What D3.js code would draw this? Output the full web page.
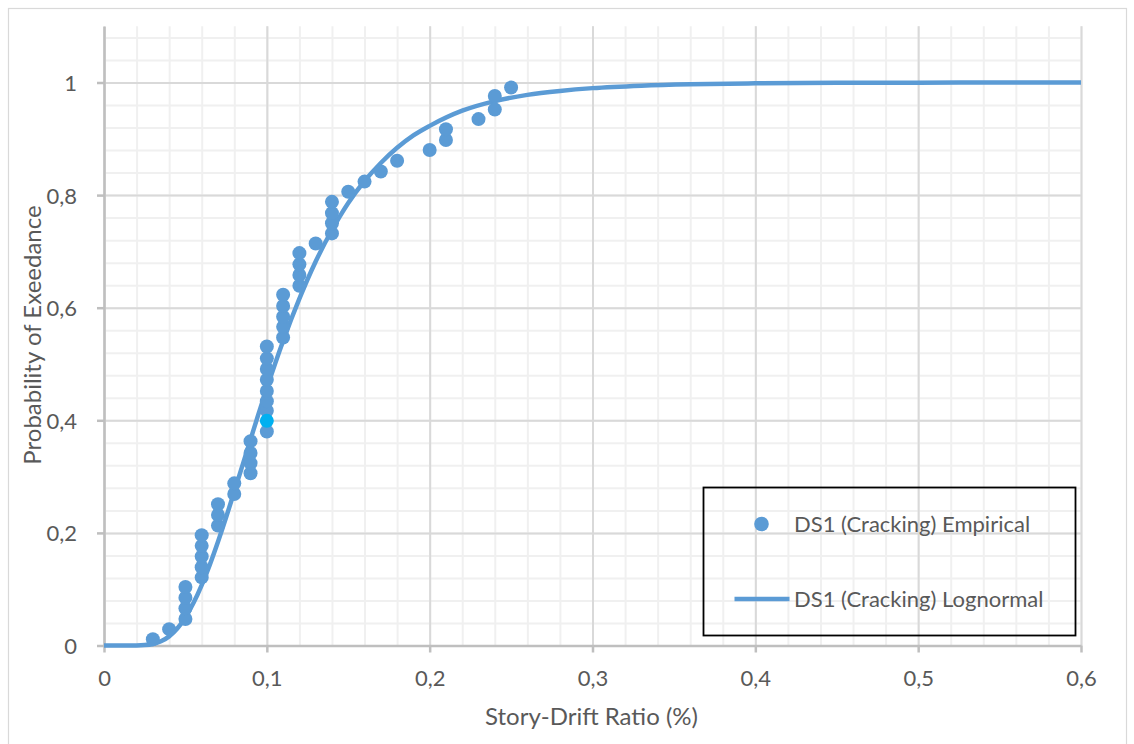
<!DOCTYPE html>
<html>
<head>
<meta charset="utf-8">
<script src="https://cdn.jsdelivr.net/npm/d3@7"></script>
<style>
  html, body { margin: 0; padding: 0; background: #fff; }
  svg { display: block; }
  text { font-family: Lato, "Open Sans", sans-serif; fill: #595959; }
</style>
</head>
<body>
<svg id="chart" width="1134" height="744"></svg>
<script>
// Empirical fragility points: story-drift ratio (%) and probability of exceedance
const empiricalDrift = [
  0.03, 0.04,
  0.05, 0.05, 0.05, 0.05,
  0.06, 0.06, 0.06, 0.06, 0.06,
  0.07, 0.07, 0.07,
  0.08, 0.08,
  0.09, 0.09, 0.09, 0.09,
  0.10, 0.10, 0.10, 0.10, 0.10, 0.10, 0.10, 0.10, 0.10,
  0.11, 0.11, 0.11, 0.11, 0.11,
  0.12, 0.12, 0.12, 0.12,
  0.13,
  0.14, 0.14, 0.14, 0.14,
  0.15, 0.16, 0.17, 0.18, 0.20,
  0.21, 0.21, 0.23, 0.24, 0.24, 0.25
];
const empiricalProb = [
  0.011, 0.029,
  0.047, 0.066, 0.085, 0.104,
  0.121, 0.139, 0.158, 0.177, 0.196,
  0.213, 0.232, 0.251,
  0.269, 0.288,
  0.306, 0.324, 0.342, 0.363,
  0.380, 0.399, 0.417, 0.434, 0.452, 0.472, 0.491, 0.510, 0.531,
  0.547, 0.566, 0.584, 0.603, 0.623,
  0.639, 0.658, 0.677, 0.697,
  0.714,
  0.732, 0.750, 0.768, 0.788,
  0.806, 0.824, 0.842, 0.861, 0.880,
  0.898, 0.917, 0.935, 0.952, 0.976, 0.991
];
// the one point shown in a brighter blue
const highlightedPoint = 21;

// Fitted lognormal fragility curve
const lognormalDrift = [
  0, 0.01, 0.02, 0.025, 0.03, 0.035, 0.04, 0.045, 0.05, 0.055, 0.06, 0.065,
  0.07, 0.075, 0.08, 0.085, 0.09, 0.095, 0.10, 0.11, 0.12, 0.13, 0.14, 0.15,
  0.16, 0.17, 0.18, 0.19, 0.20, 0.22, 0.24, 0.26, 0.28, 0.30, 0.33, 0.36,
  0.40, 0.45, 0.50, 0.55, 0.60
];
const lognormalProb = [
  0, 0, 0.0001, 0.0007, 0.0027, 0.0074, 0.0162, 0.0301, 0.050, 0.0758, 0.1073, 0.1437,
  0.1843, 0.2278, 0.2732, 0.3195, 0.3662, 0.4122, 0.457, 0.541, 0.616, 0.682, 0.738, 0.786,
  0.825, 0.857, 0.884, 0.906, 0.923, 0.950, 0.967, 0.978, 0.985, 0.990, 0.9944, 0.9969,
  0.9985, 0.9994, 0.9997, 0.9999, 1.0
];

const xMajorTicks = [0, 0.1, 0.2, 0.3, 0.4, 0.5, 0.6];
const yMajorTicks = [0, 0.2, 0.4, 0.6, 0.8, 1];
const xMinorTicks = d3.range(0, 31).map(i => i / 50);   // every 0.02
const yMinorTicks = d3.range(0, 28).map(i => i / 25);   // every 0.04

const seriesNames = ["DS1 (Cracking) Empirical", "DS1 (Cracking) Lognormal"];
const xTitle = "Story-Drift Ratio (%)";
const yTitle = "Probability of Exeedance";

const blue = "#5b9bd5";
const brightBlue = "#00b0f0";
const fontSize = 22;
const titleSize = 24;

const svg = d3.select("#chart");

// chart frame
svg.append("rect")
  .attr("x", 8.5).attr("y", 8.5)
  .attr("width", 1118).attr("height", 760)
  .attr("fill", "none").attr("stroke", "#d9d9d9").attr("stroke-width", 1.2);

const x = d3.scaleLinear().domain([0, 0.6]).range([104, 1081]);
const y = d3.scaleLinear().domain([0, 1.1]).range([645.5, 26.2]);

const [x0, x1] = x.range();
const [yBottom, yTop] = y.range();

// minor grid
const grid = svg.append("g");
grid.append("g")
  .attr("transform", `translate(0,${yBottom})`)
  .call(d3.axisBottom(x).tickValues(xMinorTicks).tickSize(-(yBottom - yTop)).tickFormat(""))
  .call(g => g.select(".domain").remove())
  .call(g => g.selectAll("line").attr("stroke", "#f0f0f0").attr("stroke-width", 2));
grid.append("g")
  .attr("transform", `translate(${x0},0)`)
  .call(d3.axisLeft(y).tickValues(yMinorTicks).tickSize(-(x1 - x0)).tickFormat(""))
  .call(g => g.select(".domain").remove())
  .call(g => g.selectAll("line").attr("stroke", "#f0f0f0").attr("stroke-width", 2));
// major grid
grid.append("g")
  .attr("transform", `translate(0,${yBottom})`)
  .call(d3.axisBottom(x).tickValues(xMajorTicks).tickSize(-(yBottom - yTop)).tickFormat(""))
  .call(g => g.select(".domain").remove())
  .call(g => g.selectAll("line").attr("stroke", "#d9d9d9").attr("stroke-width", 2));
grid.append("g")
  .attr("transform", `translate(${x0},0)`)
  .call(d3.axisLeft(y).tickValues(yMajorTicks).tickSize(-(x1 - x0)).tickFormat(""))
  .call(g => g.select(".domain").remove())
  .call(g => g.selectAll("line").attr("stroke", "#d9d9d9").attr("stroke-width", 2));

const commaFormat = d => String(d).replace(".", ",");

// axes
const xAxis = svg.append("g")
  .attr("transform", `translate(0,${yBottom})`)
  .call(d3.axisBottom(x).tickValues(xMajorTicks).tickSize(7).tickSizeOuter(0).tickPadding(18).tickFormat(commaFormat));
const yAxis = svg.append("g")
  .attr("transform", `translate(${x0},0)`)
  .call(d3.axisLeft(y).tickValues(yMajorTicks).tickSize(7).tickSizeOuter(0).tickPadding(20).tickFormat(commaFormat));
[xAxis, yAxis].forEach(a => {
  a.select(".domain").attr("stroke", "#bfbfbf").attr("stroke-width", 2.5);
  a.selectAll(".tick line").attr("stroke", "#bfbfbf").attr("stroke-width", 2.5);
  a.selectAll(".tick text")
    .attr("font-family", "Lato, 'Open Sans', sans-serif")
    .attr("font-size", fontSize).attr("fill", "#595959");
});
yAxis.selectAll(".tick text").attr("dy", "0.36em");

// axis titles
svg.append("text")
  .attr("x", (x0 + x1) / 2 - 1).attr("y", 725)
  .attr("text-anchor", "middle").attr("font-size", titleSize)
  .text(xTitle);
svg.append("text")
  .attr("transform", `translate(41,335) rotate(-90)`)
  .attr("text-anchor", "middle").attr("font-size", titleSize)
  .text(yTitle);

// lognormal curve
const curvePoints = lognormalDrift.map((d, i) => [d, lognormalProb[i]]);
svg.append("path")
  .datum(curvePoints)
  .attr("fill", "none")
  .attr("stroke", blue)
  .attr("stroke-width", 4.5)
  .attr("stroke-linejoin", "round")
  .attr("d", d3.line().x(d => x(d[0])).y(d => y(d[1])).curve(d3.curveMonotoneX));

// empirical points
const points = empiricalDrift.map((d, i) => ({ drift: d, prob: empiricalProb[i], i }));
svg.append("g")
  .selectAll("circle")
  .data(points)
  .join("circle")
  .attr("cx", d => x(d.drift))
  .attr("cy", d => y(d.prob))
  .attr("r", 7)
  .attr("fill", d => d.i === highlightedPoint ? brightBlue : blue);
// bring the highlighted point to the front
svg.selectAll("circle").filter(d => d && d.i === highlightedPoint).raise();

// legend
const legend = svg.append("g");
legend.append("rect")
  .attr("x", 703.5).attr("y", 487.5)
  .attr("width", 372).attr("height", 148)
  .attr("fill", "none").attr("stroke", "#000").attr("stroke-width", 1.8);
legend.append("circle")
  .attr("cx", 761.5).attr("cy", 524).attr("r", 7.3).attr("fill", blue);
legend.append("line")
  .attr("x1", 734.5).attr("x2", 789.5).attr("y1", 599).attr("y2", 599)
  .attr("stroke", blue).attr("stroke-width", 4.5);
legend.selectAll("text.entry")
  .data(seriesNames)
  .join("text")
  .attr("class", "entry")
  .attr("x", 794)
  .attr("y", (d, i) => i === 0 ? 524 : 599)
  .attr("dy", "0.36em")
  .attr("font-size", fontSize)
  .text(d => d);
</script>
</body>
</html>
